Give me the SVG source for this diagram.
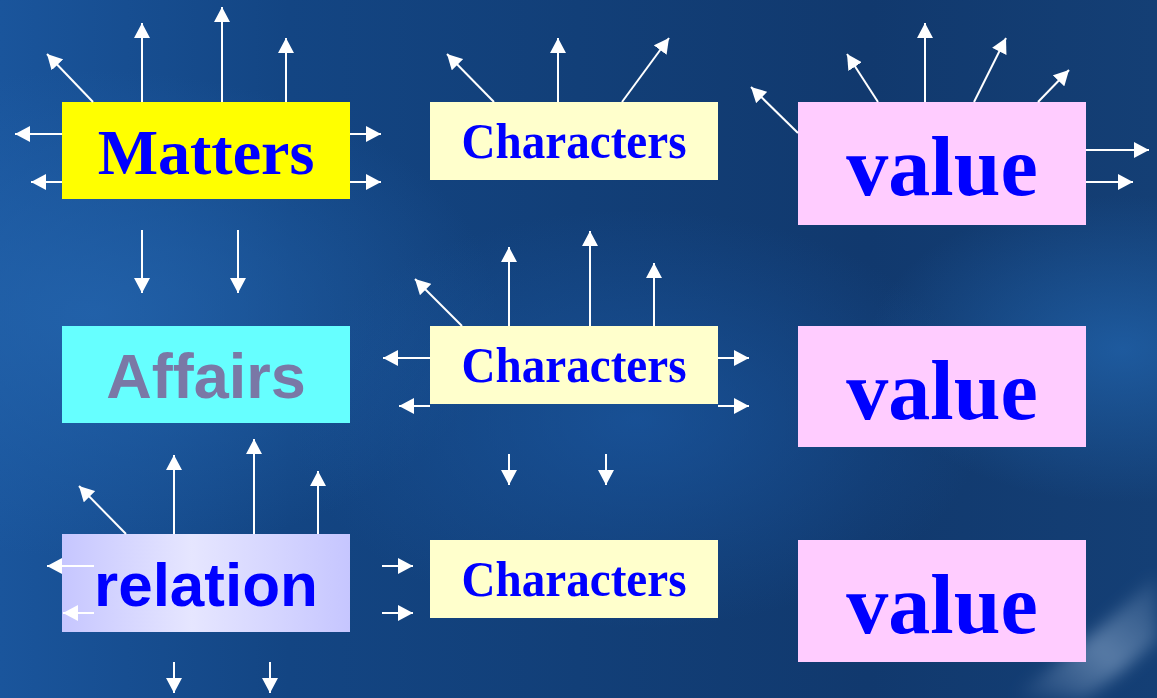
<svg xmlns="http://www.w3.org/2000/svg" width="1157" height="698" viewBox="0 0 1157 698">
  <defs>
    <linearGradient id="bg" x1="0" y1="0" x2="1" y2="0">
      <stop offset="0" stop-color="#1A559C"/>
      <stop offset="0.25" stop-color="#134583"/>
      <stop offset="0.5" stop-color="#123F78"/>
      <stop offset="0.75" stop-color="#11396E"/>
      <stop offset="1" stop-color="#143F75"/>
    </linearGradient>
    <radialGradient id="glowL" cx="0.08" cy="0.45" r="0.35">
      <stop offset="0" stop-color="#2465AE" stop-opacity="0.8"/>
      <stop offset="1" stop-color="#2465AE" stop-opacity="0"/>
    </radialGradient>
    <radialGradient id="glowM" cx="0.55" cy="0.6" r="0.3">
      <stop offset="0" stop-color="#1B58A2" stop-opacity="0.7"/>
      <stop offset="1" stop-color="#1B58A2" stop-opacity="0"/>
    </radialGradient>
    <radialGradient id="glowR" cx="0.97" cy="0.5" r="0.22">
      <stop offset="0" stop-color="#2266B0" stop-opacity="0.7"/>
      <stop offset="1" stop-color="#2266B0" stop-opacity="0"/>
    </radialGradient>
    <linearGradient id="streak" x1="0" y1="1" x2="1" y2="0">
      <stop offset="0" stop-color="#9DB8D8" stop-opacity="0"/>
      <stop offset="0.5" stop-color="#9DB8D8" stop-opacity="0.5"/>
      <stop offset="1" stop-color="#9DB8D8" stop-opacity="0.1"/>
    </linearGradient>
    <filter id="soft" x="-20%" y="-20%" width="140%" height="140%">
      <feGaussianBlur stdDeviation="8"/>
    </filter>
    <linearGradient id="relFill" x1="0" y1="0" x2="1" y2="0">
      <stop offset="0" stop-color="#C6C6FF"/>
      <stop offset="0.45" stop-color="#E6E6FF"/>
      <stop offset="1" stop-color="#C6C6FF"/>
    </linearGradient>
    <marker id="head" viewBox="0 0 15 16" refX="15" refY="8" markerWidth="15" markerHeight="16" markerUnits="userSpaceOnUse" orient="auto">
      <path d="M0,0 L15,8 L0,16 Z" fill="#FFFFFF"/>
    </marker>
  </defs>
  <style>
    .box { stroke: none; }
    .serif { font-family: "Liberation Serif", "Times New Roman", serif; font-weight: bold; fill: #0000FF; text-anchor: middle; }
    .sans { font-family: "Liberation Sans", Arial, sans-serif; font-weight: bold; text-anchor: middle; }
    .conn line { stroke: #FFFFFF; stroke-width: 2; marker-end: url(#head); }
  </style>

  <!-- backdrop -->
  <rect x="0" y="0" width="1157" height="698" fill="url(#bg)"/>
  <rect x="0" y="0" width="1157" height="698" fill="url(#glowL)"/>
  <rect x="0" y="0" width="1157" height="698" fill="url(#glowM)"/>
  <rect x="0" y="0" width="1157" height="698" fill="url(#glowR)"/>
  <path d="M1010,698 Q1085,645 1157,575 L1157,640 Q1120,675 1085,698 Z" fill="url(#streak)" filter="url(#soft)"/>

  <!-- left column -->
  <g id="matters">
    <rect class="box" x="62" y="102" width="288" height="97" fill="#FFFF00"/>
    <text class="serif" x="206" y="174" font-size="64">Matters</text>
  </g>
  <g id="affairs">
    <rect class="box" x="62" y="326" width="288" height="97" fill="#66FFFF"/>
    <text class="sans" x="206" y="398" font-size="63" fill="#7A78A6">Affairs</text>
  </g>
  <g id="relation">
    <rect class="box" x="62" y="534" width="288" height="98" fill="url(#relFill)"/>
    <text class="sans" x="206" y="606" font-size="62" fill="#0000FF">relation</text>
  </g>

  <!-- middle column -->
  <g id="characters-1">
    <rect class="box" x="430" y="102" width="288" height="78" fill="#FFFFCC"/>
    <text class="serif" x="574" y="158" font-size="50" textLength="225" lengthAdjust="spacingAndGlyphs">Characters</text>
  </g>
  <g id="characters-2">
    <rect class="box" x="430" y="326" width="288" height="78" fill="#FFFFCC"/>
    <text class="serif" x="574" y="382" font-size="50" textLength="225" lengthAdjust="spacingAndGlyphs">Characters</text>
  </g>
  <g id="characters-3">
    <rect class="box" x="430" y="540" width="288" height="78" fill="#FFFFCC"/>
    <text class="serif" x="574" y="596" font-size="50" textLength="225" lengthAdjust="spacingAndGlyphs">Characters</text>
  </g>

  <!-- right column -->
  <g id="value-1">
    <rect class="box" x="798" y="102" width="288" height="123" fill="#FFCCFF"/>
    <text class="serif" x="942" y="195" font-size="84">value</text>
  </g>
  <g id="value-2">
    <rect class="box" x="798" y="326" width="288" height="121" fill="#FFCCFF"/>
    <text class="serif" x="942" y="419" font-size="84">value</text>
  </g>
  <g id="value-3">
    <rect class="box" x="798" y="540" width="288" height="122" fill="#FFCCFF"/>
    <text class="serif" x="942" y="633" font-size="84">value</text>
  </g>

  <!-- connectors -->
  <g id="connectors" class="conn">
    <!-- around Matters -->
    <line x1="93" y1="102" x2="47" y2="54"/>
    <line x1="142" y1="102" x2="142" y2="23"/>
    <line x1="222" y1="102" x2="222" y2="7"/>
    <line x1="286" y1="102" x2="286" y2="38"/>
    <line x1="62" y1="134" x2="15" y2="134"/>
    <line x1="62" y1="182" x2="31" y2="182"/>
    <line x1="350" y1="134" x2="381" y2="134"/>
    <line x1="350" y1="182" x2="381" y2="182"/>
    <line x1="142" y1="230" x2="142" y2="293"/>
    <line x1="238" y1="230" x2="238" y2="293"/>

    <!-- around upper Characters -->
    <line x1="494" y1="102" x2="447" y2="54"/>
    <line x1="558" y1="102" x2="558" y2="38"/>
    <line x1="622" y1="102" x2="669" y2="38"/>

    <!-- around upper value -->
    <line x1="798" y1="133" x2="751" y2="87"/>
    <line x1="878" y1="102" x2="847" y2="54"/>
    <line x1="925" y1="102" x2="925" y2="23"/>
    <line x1="974" y1="102" x2="1006" y2="38"/>
    <line x1="1038" y1="102" x2="1069" y2="70"/>
    <line x1="1086" y1="150" x2="1149" y2="150"/>
    <line x1="1086" y1="182" x2="1133" y2="182"/>

    <!-- around middle Characters -->
    <line x1="462" y1="326" x2="415" y2="279"/>
    <line x1="509" y1="326" x2="509" y2="247"/>
    <line x1="590" y1="326" x2="590" y2="231"/>
    <line x1="654" y1="326" x2="654" y2="263"/>
    <line x1="430" y1="358" x2="383" y2="358"/>
    <line x1="430" y1="406" x2="399" y2="406"/>
    <line x1="718" y1="358" x2="749" y2="358"/>
    <line x1="718" y1="406" x2="749" y2="406"/>
    <line x1="509" y1="454" x2="509" y2="485"/>
    <line x1="606" y1="454" x2="606" y2="485"/>

    <!-- around relation -->
    <line x1="126" y1="534" x2="79" y2="486"/>
    <line x1="174" y1="534" x2="174" y2="455"/>
    <line x1="254" y1="534" x2="254" y2="439"/>
    <line x1="318" y1="534" x2="318" y2="471"/>
    <line x1="94" y1="566" x2="47" y2="566"/>
    <line x1="94" y1="613" x2="63" y2="613"/>
    <line x1="382" y1="566" x2="413" y2="566"/>
    <line x1="382" y1="613" x2="413" y2="613"/>
    <line x1="174" y1="662" x2="174" y2="693"/>
    <line x1="270" y1="662" x2="270" y2="693"/>
  </g>
</svg>
